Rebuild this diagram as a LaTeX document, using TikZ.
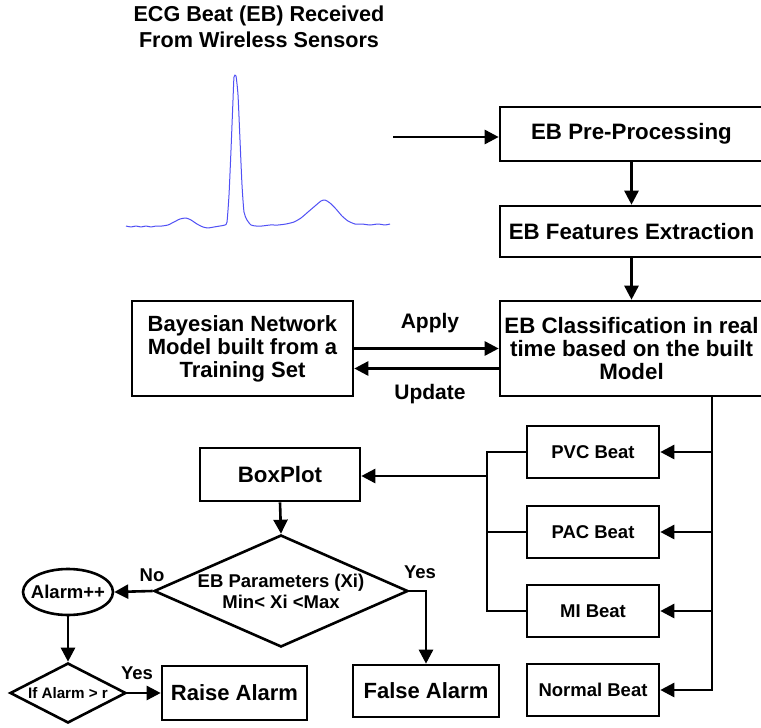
\documentclass[tikz,border=0pt]{standalone}
\usepackage{fontspec}
\setmainfont{Liberation Sans}
\usetikzlibrary{arrows.meta,shapes.geometric,calc}
\definecolor{ecgblue}{RGB}{80,80,245}
\tikzset{
  box/.style={draw, line width=2.6pt, inner sep=0pt, align=center, font=\bfseries\fontsize{22.3}{23}\selectfont},
  beatbox/.style={draw, line width=2.6pt, inner sep=0pt, minimum width=132pt, minimum height=52pt, font=\bfseries\fontsize{18.5}{20}\selectfont},
  lbl/.style={inner sep=0pt, font=\bfseries\fontsize{18.5}{21}\selectfont, align=center},
  conn/.style={line width=2.6pt},
  arr/.style={line width=2.6pt, -{Triangle[length=14pt,width=14pt]}},
}
\begin{document}
\begin{tikzpicture}[x=1pt,y=-1pt]
\useasboundingbox (0,0) rectangle (761,728);
\fill[white] (0,0) rectangle (761,728);

% title
\node[inner sep=0pt, align=center, font=\bfseries\fontsize{21.6}{26}\selectfont] (title) at (259,27) {ECG Beat (EB) Received\\From Wireless Sensors};

% ECG trace
\draw[ecgblue, line width=1pt, line join=round] plot[smooth, tension=0.35] coordinates {
(126,226) (131,227) (136,226) (141,227) (146,226) (151,227) (156,226) (162,226) (168,225) (174,222) (180,219) (186,218) (191,220) (197,224) (203,227) (208,228) (214,227) (220,226) (225,225) (227,222) (229,195) (231,150) (233,100) (234,77) (236,76) (238,95) (240,140) (242,185) (244,212) (247,220) (251,225) (256,226) (262,226) (270,225) (278,225) (286,224) (294,222) (301,218) (308,212) (315,206) (321,201) (325,200) (330,203) (336,209) (342,216) (348,221) (355,224) (362,224) (370,225) (378,224) (385,225) (390,224)};

% main column
\node[box, minimum width=263pt, minimum height=54pt] (pre) at (631.5,134) {EB Pre-Processing};
\node[box, minimum width=263pt, minimum height=51pt] (feat) at (631.5,231.5) {EB Features Extraction};
\node[box, minimum width=263pt, minimum height=95pt] (cls) at (631.5,348.5) {EB Classification in real\\time based on the built\\Model};
\node[box, minimum width=221pt, minimum height=95pt, font=\bfseries\fontsize{22}{23}\selectfont] (bayes) at (242.5,348.5) {Bayesian Network\\Model built from a\\Training Set};

\coordinate (in) at (393,137);
\draw[arr] (in) -- (in -| pre.west);
\draw[arr] (pre.south) -- (feat.north);
\draw[arr] (feat.south) -- (cls.north);
\draw[arr] (bayes.east) -- (cls.west);
\draw[arr] ([yshift=-20pt]cls.west) -- ([yshift=-20pt]bayes.east);
\node[lbl, font=\bfseries\fontsize{21}{23}\selectfont] (apply) at (430,323) {Apply};
\node[lbl, font=\bfseries\fontsize{21}{23}\selectfont] (update) at (430,394) {Update};

% beat boxes
\node[beatbox] (pvc) at (593,452) {PVC Beat};
\node[beatbox] (pac) at (593,532) {PAC Beat};
\node[beatbox] (mi) at (593,611) {MI Beat};
\node[beatbox] (normal) at (593,690) {Normal Beat};

\coordinate (trunk) at (712,0);
\draw[arr] (cls.south -| trunk) |- (normal.east);
\draw[arr] (pvc.east -| trunk) -- (pvc.east);
\draw[arr] (pac.east -| trunk) -- (pac.east);
\draw[arr] (mi.east -| trunk) -- (mi.east);

\coordinate (bus) at (487,0);
\draw[conn] (pvc.west) -- (pvc.west -| bus) -- (mi.west -| bus) -- (mi.west);
\draw[conn] (pac.west) -- (pac.west -| bus);

% boxplot and decision
\node[box, minimum width=160pt, minimum height=53pt] (boxplot) at (280,474.5) {BoxPlot};
\coordinate (bj) at (487,476);
\draw[arr] (bj) -- (bj -| boxplot.east);

\node[draw, line width=2.6pt, shape=diamond, inner sep=0pt, minimum width=254pt, minimum height=112pt] (dec) at (281,591) {};
\node[lbl] (dectext) at (dec.center) {EB Parameters (Xi)\\Min< Xi <Max};
\draw[arr] (boxplot.south) -- (dec.north);

\node[draw, line width=2.6pt, shape=ellipse, inner sep=0pt, minimum width=90pt, minimum height=46pt] (alarm) at (68,592) {};
\node[lbl] (alarmtext) at (alarm.center) {Alarm++};
\draw[arr] (dec.west) -- (alarm.east);
\node[lbl] (no) at (152,575) {No};

\node[draw, line width=2.6pt, shape=diamond, inner sep=0pt, minimum width=116pt, minimum height=60pt] (ifal) at (68,693) {};
\node[lbl, font=\bfseries\fontsize{15.2}{18}\selectfont] (iftext) at (ifal.center) {If Alarm > r};
\draw[arr] (alarm.south) -- (ifal.north);

\node[box, minimum width=145pt, minimum height=54pt, font=\bfseries\fontsize{22}{24}\selectfont] (raise) at (234.5,693) {Raise Alarm};
\draw[arr] (ifal.east) -- (raise.west);
\node[lbl] (yes1) at (137,673) {Yes};

\node[box, minimum width=146pt, minimum height=52pt, font=\bfseries\fontsize{22}{24}\selectfont] (false) at (426,691) {False Alarm};
\draw[arr] (dec.east) -| (false.north);
\node[lbl] (yes2) at (420,572) {Yes};
\end{tikzpicture}
\end{document}
